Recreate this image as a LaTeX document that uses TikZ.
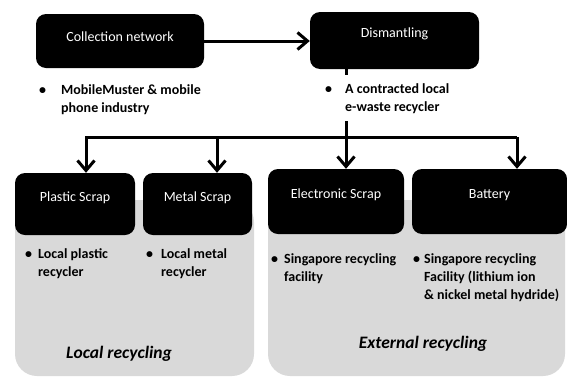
\documentclass[tikz,border=0pt]{standalone}
\usepackage{fontspec}
\setmainfont{Carlito}
\usetikzlibrary{arrows.meta,positioning,calc}

% bullet line with a given gap between bullet and text
\newcommand{\blist}[2]{\begin{tabular}[t]{@{}l@{\hspace{#1}}l@{}}\textbullet&#2\end{tabular}}

\begin{document}
\begin{tikzpicture}[x=1pt,y=-1pt,
    font=\fontsize{14}{18}\selectfont,
    stage/.style={fill=black, rounded corners=10pt, inner sep=0pt},
    title/.style={text=white, anchor=base, inner sep=0pt},
    note/.style={font=\fontsize{14}{18}\selectfont\bfseries, anchor=base west, inner sep=0pt},
    group/.style={fill=gray!30, rounded corners=22pt},
    grouplabel/.style={font=\fontsize{17.5}{20}\selectfont\bfseries\itshape, anchor=base, inner sep=0pt},
    flow/.style={-{Straight Barb[length=10pt,width=17pt]}, line width=3pt}]
    \useasboundingbox (0,0) rectangle (567,378);

    % Grey recycling groups
    \fill[group] (15,200) rectangle (254,376);
    \fill[group] (268,200) rectangle (565,376);

    % Top stages
    \node[stage, minimum width=168pt, minimum height=54pt] (coll) at (120,41) {};
    \node[stage, minimum width=169pt, minimum height=57pt] (dism) at (394.5,40.5) {};
    \node[title] (colltitle) at ([yshift=-28pt]coll.north) {Collection network};
    \node[title] (dismtitle) at ([yshift=-26pt]dism.north) {Dismantling};

    % Scrap streams
    \node[stage, minimum width=120pt, minimum height=62pt] (plastic) at (75,204) {};
    \node[stage, minimum width=109pt, minimum height=62pt] (metal) at (197.5,204) {};
    \node[stage, minimum width=136pt, minimum height=65pt] (elec) at (336,201.5) {};
    \node[stage, minimum width=155pt, minimum height=65pt] (battery) at (489.5,201.5) {};
    \node[title] (plastictitle) at ([yshift=-29pt]plastic.north) {Plastic Scrap};
    \node[title] (metaltitle) at ([yshift=-29pt]metal.north) {Metal Scrap};
    \node[title] (electitle) at ([yshift=-30pt]elec.north) {Electronic Scrap};
    \node[title] (batterytitle) at ([yshift=-30pt]battery.north) {Battery};

    % Arrows
    \coordinate (split) at (346,137);
    \coordinate (busL) at (86,137);
    \coordinate (busM) at (217,137);
    \coordinate (busR) at (517,137);
    \draw[flow] (coll.east) -- (coll.east -| dism.west);
    \draw[line width=3pt] (split |- dism.south) -- (split);
    \draw[flow] (busR) -- (busL) -- (busL |- plastic.north);
    \draw[flow] (busM) -- (busM |- metal.north);
    \draw[flow] (split) -- (split |- elec.north);
    \draw[flow] (busR) -- (busR |- battery.north);

    % Notes
    \node[note] (collnote) at (39,94) {\blist{15pt}{MobileMuster \& mobile\\&phone industry}};
    \node[note, fill=white, inner ysep=5pt] (dismnote) at (325,93) {\blist{13pt}{A contracted local\\&e-waste recycler}};
    \node[note] (plasticnote) at (25,258) {\blist{6pt}{Local plastic\\&recycler}};
    \node[note] (metalnote) at (146,258) {\blist{8pt}{Local metal\\&recycler}};
    \node[note] (elecnote) at (271,263) {\blist{6pt}{Singapore recycling\\&facility}};
    \node[note] (batterynote) at (413,263) {\blist{4pt}{Singapore recycling\\&Facility (lithium ion\\&\& nickel metal hydride)}};

    % Group labels
    \node[grouplabel] (locallabel) at (119,358) {Local recycling};
    \node[grouplabel] (extlabel) at (423,348) {External recycling};
\end{tikzpicture}
\end{document}
